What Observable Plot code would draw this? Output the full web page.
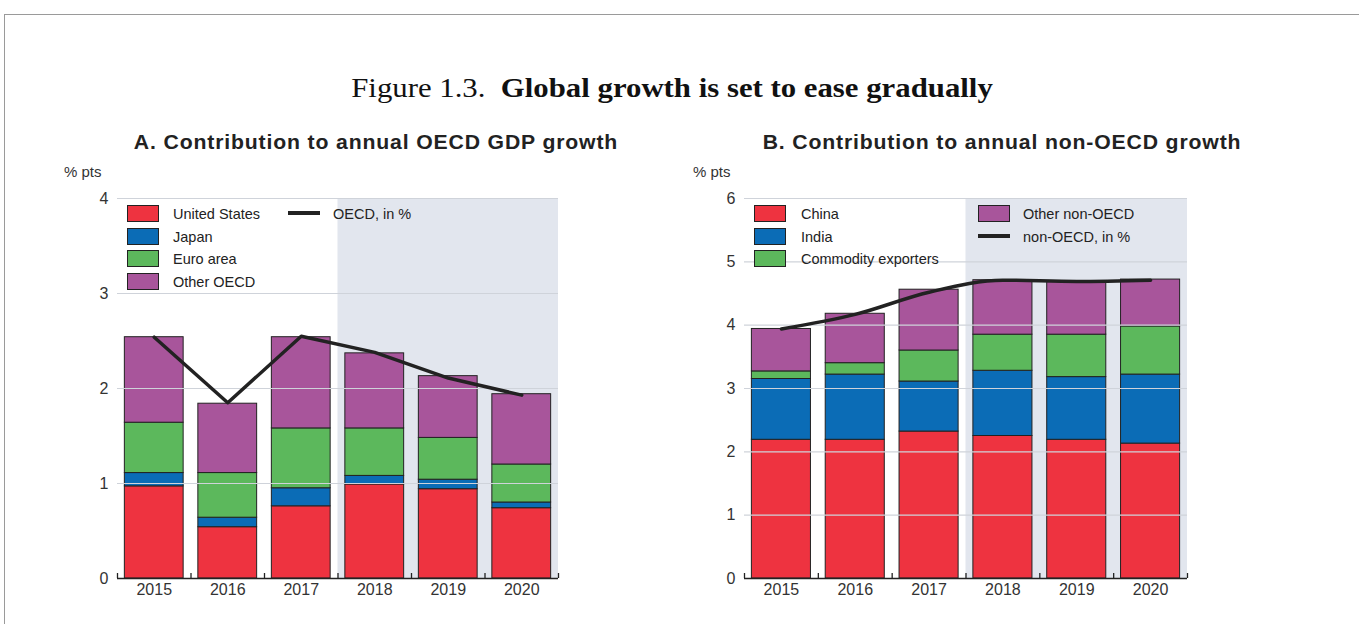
<!DOCTYPE html>
<html>
<head>
<meta charset="utf-8">
<script src="https://cdn.jsdelivr.net/npm/d3@7"></script>
<script src="https://cdn.jsdelivr.net/npm/@observablehq/plot@0.6"></script>
<style>
  html, body { margin: 0; padding: 0; background: #fff; }
  body { width: 1359px; height: 624px; position: relative; overflow: hidden; font-family: "Liberation Sans", Arial, sans-serif; color: #222; }
  .abs { position: absolute; }
  #border { left: 4px; top: 14px; width: 1400px; height: 700px; border-top: 1px solid #9a9a9a; border-left: 1px solid #9a9a9a; }
  #title { left: 0; width: 1344px; top: 73px; text-align: center; font-family: "Liberation Serif", "DejaVu Serif", serif; font-size: 27px; color: #111; transform: scaleX(1.14); transform-origin: 672px 0; }
  #title b { font-weight: bold; }
  .ptitle { font-weight: bold; font-size: 20px; letter-spacing: 0.8px; color: #222; text-align: center; white-space: nowrap; transform: scaleX(1.06); }
  .unit { font-size: 15px; color: #333; }
  .sw { width: 30px; height: 15px; border: 1px solid #222; }
  .ln { height: 4px; background: #222; }
  .lt { font-size: 14.5px; color: #222; white-space: nowrap; line-height: 18px; }
</style>
</head>
<body>
<div id="border" class="abs"></div>
<div id="title" class="abs">Figure 1.3.&nbsp; <b>Global growth is set to ease gradually</b></div>
<div class="abs ptitle" style="left:76px;width:600px;top:131px;">A. Contribution to annual OECD GDP growth</div>
<div class="abs ptitle" style="left:702px;width:600px;top:131px;">B. Contribution to annual non-OECD growth</div>
<div class="abs unit" style="left:64px;top:163px;">% pts</div>
<div class="abs unit" style="left:693px;top:163px;">% pts</div>
<div id="chartA" class="abs" style="left:60px;top:180px;"></div>
<div id="chartB" class="abs" style="left:680px;top:180px;"></div>
<div id="legA"></div>
<div id="legB"></div>
<script>
// ---------- data ----------
const years = [2015, 2016, 2017, 2018, 2019, 2020];
const projectionStart = 2018;

// Panel A: contributions to OECD GDP growth (% pts)
const seriesA = ["United States", "Japan", "Euro area", "Other OECD"];
const unitedStates = [0.97, 0.54, 0.76, 0.99, 0.94, 0.74];
const japan        = [0.14, 0.10, 0.19, 0.09, 0.10, 0.06];
const euroArea     = [0.53, 0.47, 0.63, 0.50, 0.44, 0.40];
const otherOECD    = [0.90, 0.73, 0.96, 0.79, 0.65, 0.74];
const oecdGrowth   = [2.54, 1.85, 2.55, 2.38, 2.11, 1.93];
const lineLabelA = "OECD, in %";
const yTicksA = [0, 1, 2, 3, 4];

// Panel B: contributions to non-OECD growth (% pts)
const seriesB = ["China", "India", "Commodity exporters", "Other non-OECD"];
const china        = [2.19, 2.19, 2.32, 2.25, 2.19, 2.13];
const india        = [0.96, 1.03, 0.79, 1.03, 0.99, 1.09];
const commodity    = [0.12, 0.18, 0.49, 0.57, 0.67, 0.76];
const otherNonOECD = [0.67, 0.78, 0.96, 0.86, 0.84, 0.74];
const nonOecdGrowth = [3.94, 4.17, 4.52, 4.71, 4.69, 4.71];
const lineLabelB = "non-OECD, in %";
const yTicksB = [0, 1, 2, 3, 4, 5, 6];

const colors = ["#ee3340", "#0b6cb6", "#5cb85c", "#a8559b"];
const shadeColor = "#e2e6ee";

// ---------- helpers ----------
function stackRows(series, arrays) {
  const rows = [];
  years.forEach((yr, i) => {
    let acc = 0;
    series.forEach((s, k) => {
      const v = arrays[k][i];
      rows.push({year: yr, series: s, y1: acc, y2: acc + v});
      acc += v;
    });
  });
  return rows;
}

function panel({series, arrays, line, yTicks, width, marginLeft, marginRight, curve}) {
  const height = 420, marginTop = 18, marginBottom = 22;
  const rows = stackRows(series, arrays);
  const lineData = years.map((y, i) => ({year: y, value: line[i]}));
  const xMin = years[0] - 0.5, xMax = years[years.length - 1] + 0.5;
  const yMax = yTicks[yTicks.length - 1];
  const boundaries = d3.range(years.length + 1).map(i => xMin + i);
  const shade = [{x1: projectionStart - 0.5, x2: xMax, y1: 0, y2: yMax}];
  return Plot.plot({
    width, height, marginLeft, marginRight, marginTop, marginBottom,
    style: {fontFamily: "'Liberation Sans', Arial, sans-serif", fontSize: "16px", color: "#333", background: "transparent"},
    x: {domain: [xMin, xMax], axis: null},
    y: {domain: [0, yMax], axis: null},
    color: {domain: series, range: colors},
    marks: [
      Plot.rect(shade, {x1: "x1", x2: "x2", y1: "y1", y2: "y2", fill: shadeColor}),
      Plot.rect(rows, {x1: d => d.year - 0.4, x2: d => d.year + 0.4, y1: "y1", y2: "y2", fill: "series", stroke: "#222", strokeWidth: 1}),
      Plot.ruleY(yTicks.filter(t => t > 0), {stroke: "#cfd3da", strokeWidth: 1.2}),
      Plot.line(lineData, {x: "year", y: "value", stroke: "#222", strokeWidth: 3.5, curve}),
      Plot.ruleY([0], {stroke: "#222", strokeWidth: 1.3}),
      Plot.tickX(boundaries, {x: d => d, stroke: "#222", strokeWidth: 1.3, insetTop: height - marginTop - marginBottom - 5}),
      Plot.axisY({ticks: yTicks, tickSize: 0, tickPadding: 9, tickFormat: d => String(d), label: null, fill: "#333"}),
      Plot.axisX({ticks: years, tickSize: 0, tickPadding: 5, tickFormat: d => String(d), label: null, fill: "#333"})
    ]
  });
}

document.getElementById("chartA").append(panel({
  series: seriesA, arrays: [unitedStates, japan, euroArea, otherOECD], line: oecdGrowth,
  yTicks: yTicksA, width: 520, marginLeft: 57, marginRight: 22, curve: "linear"
}));
document.getElementById("chartB").append(panel({
  series: seriesB, arrays: [china, india, commodity, otherNonOECD], line: nonOecdGrowth,
  yTicks: yTicksB, width: 530, marginLeft: 64, marginRight: 23, curve: "monotone-x"
}));

// ---------- legends (HTML) ----------
function legend(container, items) {
  const el = document.getElementById(container);
  items.forEach(it => {
    if (it.type === "swatch") {
      const s = document.createElement("div");
      s.className = "abs sw";
      s.style.left = it.sx + "px"; s.style.top = it.sy + "px"; s.style.background = it.color;
      el.append(s);
    } else {
      const s = document.createElement("div");
      s.className = "abs ln";
      s.style.left = it.sx + "px"; s.style.top = (it.sy + 6) + "px"; s.style.width = "32px";
      el.append(s);
    }
    const t = document.createElement("div");
    t.className = "abs lt";
    t.style.left = it.tx + "px"; t.style.top = (it.sy - 0.5) + "px";
    t.textContent = it.label;
    el.append(t);
  });
}
const rowY = [205, 228, 250, 273];
legend("legA", [
  ...seriesA.map((s, i) => ({type: "swatch", label: s, color: colors[i], sx: 127, sy: rowY[i], tx: 173})),
  {type: "line", label: lineLabelA, sx: 288, sy: rowY[0], tx: 333}
]);
legend("legB", [
  ...seriesB.slice(0, 3).map((s, i) => ({type: "swatch", label: s, color: colors[i], sx: 754, sy: rowY[i], tx: 801})),
  {type: "swatch", label: seriesB[3], color: colors[3], sx: 978, sy: rowY[0], tx: 1023},
  {type: "line", label: lineLabelB, sx: 978, sy: rowY[1], tx: 1023}
]);
</script>
</body>
</html>
